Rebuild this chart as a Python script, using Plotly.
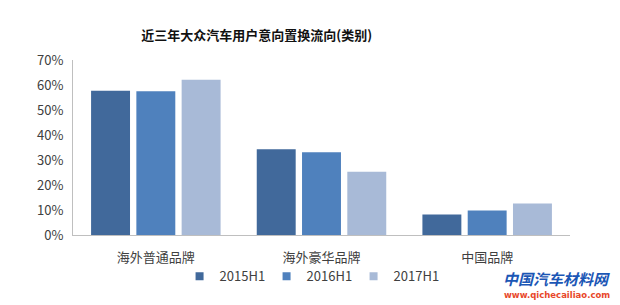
import plotly.graph_objects as go

categories = ["海外普通品牌", "海外豪华品牌", "中国品牌"]
series_names = ["2015H1", "2016H1", "2017H1"]
v2015 = [57.7, 34.3, 8.2]
v2016 = [57.5, 33.1, 9.8]
v2017 = [62.1, 25.3, 12.6]
colors = ["#41699B", "#4F81BD", "#A8BAD7"]
y_ticks = [0, 10, 20, 30, 40, 50, 60, 70]
y_labels = [f"{t}%" for t in y_ticks]

fig = go.Figure()
for name, vals, c in zip(series_names, [v2015, v2016, v2017], colors):
    fig.add_trace(go.Bar(x=categories, y=vals, name=name, showlegend=False,
                         marker=dict(color=c, line=dict(width=0))))
for name, c in zip(series_names, colors):
    fig.add_trace(go.Scatter(x=[None], y=[None], mode="markers", name=name,
                             marker=dict(symbol="square", size=8, color=c)))

font_fam = "Noto Sans CJK SC, Microsoft YaHei, sans-serif"
fig.update_layout(
    width=620, height=305,
    margin=dict(l=73, r=50, t=60, b=70),
    paper_bgcolor="white", plot_bgcolor="white",
    barmode="group", bargap=0.18, bargroupgap=0.14,
    font=dict(family=font_fam, size=13, color="#404040"),
    title=dict(text="<b>近三年大众汽车用户意向置换流向(类别)</b>", x=0.414, xanchor="center",
               y=0.885, yanchor="middle", font=dict(size=13, color="#111111", family=font_fam)),
    showlegend=True,
    legend=dict(orientation="h", x=0.477, xanchor="center", y=-0.15, yanchor="top",
                bgcolor="rgba(0,0,0,0)",
                font=dict(size=13, color="#404040"), itemwidth=30, entrywidth=42,
                entrywidthmode="pixels", traceorder="normal"),
    xaxis=dict(showline=True, linecolor="#BFBFBF", linewidth=1, ticks="", showgrid=False,
               ticklabelstandoff=10, tickfont=dict(size=13, color="#404040")),
    yaxis=dict(range=[0, 70], tickvals=y_ticks, ticktext=y_labels, showline=True, linecolor="#BFBFBF",
               linewidth=1, showgrid=False, zeroline=False, ticks="", ticklabelstandoff=6,
               tickfont=dict(size=13, color="#404040")),
)

# logo text below the plot, bottom right
fig.add_annotation(x=1.085, y=-0.25, xref="paper", yref="paper", yanchor="middle", xanchor="right",
                   showarrow=False, text="<b><i>中国汽车材料网</i></b>",
                   font=dict(size=15, color="#1B56B5", family=font_fam))
fig.add_annotation(x=1.085, y=-0.34, xref="paper", yref="paper", yanchor="middle", xanchor="right",
                   showarrow=False, text="<b>www.qichecailiao.com</b>",
                   font=dict(size=8.5, color="#E8472A", family="DejaVu Sans"))

fig.write_html("out.html")
